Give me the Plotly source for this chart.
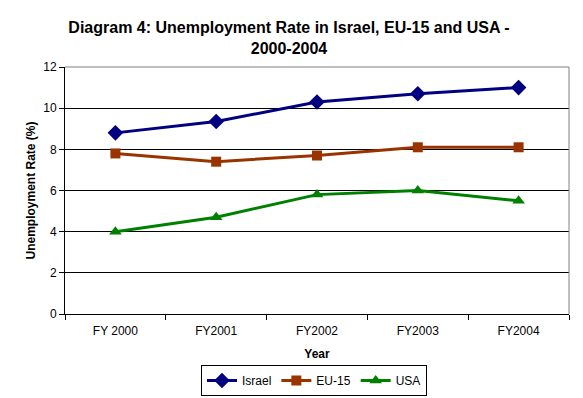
import plotly.graph_objects as go

years = ["FY 2000", "FY2001", "FY2002", "FY2003", "FY2004"]
israel = [8.8, 9.35, 10.3, 10.7, 11.0]
eu15 = [7.8, 7.4, 7.7, 8.1, 8.1]
usa = [4.0, 4.7, 5.8, 6.0, 5.5]

series = [
    ("Israel", israel, "#000080", "diamond", 12),
    ("EU-15", eu15, "#993300", "square", 10),
    ("USA", usa, "#008000", "triangle-up", 11),
]

fig = go.Figure()
for name, vals, color, sym, size in series:
    fig.add_trace(go.Scatter(
        x=years, y=vals, name=name, mode="lines+markers",
        line=dict(color=color, width=3),
        marker=dict(symbol=sym, size=size, color=color),
    ))

font = "Liberation Sans, Arial, sans-serif"
fig.update_layout(
    width=583, height=398,
    margin=dict(l=65, r=14, t=67, b=84, autoexpand=False),
    paper_bgcolor="white", plot_bgcolor="white",
    font=dict(family=font, size=11, color="black"),
    title=dict(
        text="<b>Diagram 4: Unemployment Rate in Israel, EU-15 and USA -<br>2000-2004</b>",
        x=289/583, xanchor="center", xref="container",
        y=1-33/398, yanchor="top", yref="container",
        font=dict(family=font, size=16, color="black"),
    ),
    showlegend=True,
    legend=dict(
        orientation="h", x=314/583, xanchor="center", xref="container",
        y=1-365/398, yanchor="top", yref="container",
        bordercolor="black", borderwidth=1, bgcolor="white",
        font=dict(family=font, size=12), itemwidth=30,
        tracegroupgap=0,
    ),
    xaxis=dict(
        type="category", range=[-0.5, 4.5], automargin=False,
        showline=True, linecolor="black", linewidth=1,
        ticks="outside", ticklen=5, tickcolor="black", tickson="boundaries",
        showgrid=False, tickfont=dict(size=12), ticklabelstandoff=6,
        title=dict(text="<b>Year</b>", font=dict(family=font, size=12), standoff=12),
    ),
    yaxis=dict(
        range=[0, 12], dtick=2, automargin=False,
        showline=True, linecolor="black", linewidth=1,
        ticks="outside", ticklen=5, tickcolor="black",
        showgrid=True, gridcolor="black", gridwidth=1,
        zeroline=False, tickfont=dict(size=12),
        title=dict(text="<b>Unemployment Rate (%)</b>", font=dict(family=font, size=12), standoff=5),
    ),
    shapes=[
        dict(type="line", xref="x domain", yref="y domain", x0=0, x1=1, y0=1, y1=1,
             line=dict(color="#808080", width=1), layer="above"),
        dict(type="line", xref="x domain", yref="y domain", x0=1, x1=1, y0=0, y1=1,
             line=dict(color="#808080", width=1), layer="above"),
    ],
)

fig.write_html("out.html", config={"displayModeBar": False},
               post_script="document.body.style.margin='0';document.body.style.overflow='hidden';")
